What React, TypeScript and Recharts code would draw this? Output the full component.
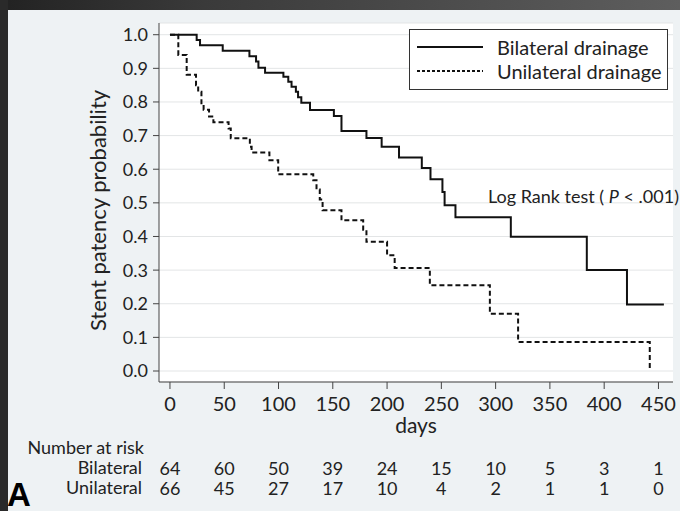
import React from 'react';
import { LineChart, Line, XAxis, YAxis, CartesianGrid, Legend, Label } from 'recharts';

const FONT = 'Lato, "Open Sans", sans-serif';
const INK = '#222';

const dayTicks = [0, 50, 100, 150, 200, 250, 300, 350, 400, 450];
const probTicks = [0, 0.1, 0.2, 0.3, 0.4, 0.5, 0.6, 0.7, 0.8, 0.9, 1];

const bilateralAtRisk = [64, 60, 50, 39, 24, 15, 10, 5, 3, 1];
const unilateralAtRisk = [66, 45, 27, 17, 10, 4, 2, 1, 1, 0];

// Kaplan-Meier steps
const bilateralDays = [0, 24.6, 27.7, 48.6, 73.2, 79.3, 81.5, 87.6, 104.5, 109, 112, 116, 118, 121, 129, 151, 158, 181, 195, 211, 232, 240, 251, 253, 263, 314, 384, 421, 455];
const bilateralSurv = [1, 0.984, 0.969, 0.952, 0.936, 0.92, 0.902, 0.887, 0.875, 0.86, 0.845, 0.83, 0.814, 0.798, 0.776, 0.758, 0.714, 0.693, 0.667, 0.635, 0.604, 0.57, 0.532, 0.493, 0.457, 0.399, 0.3, 0.198, 0.198];

const unilateralDays = [0, 7.7, 15.4, 24, 26, 29, 31, 36, 40, 54, 56, 73.6, 75.2, 91.6, 99.7, 132, 135, 138, 140.6, 158, 178, 181, 200, 207, 239.4, 294.7, 320.7, 442];
const unilateralSurv = [1, 0.94, 0.881, 0.85, 0.83, 0.792, 0.777, 0.757, 0.74, 0.721, 0.692, 0.667, 0.65, 0.627, 0.585, 0.567, 0.54, 0.51, 0.478, 0.448, 0.42, 0.384, 0.344, 0.306, 0.255, 0.17, 0.086, 0];

const seriesNames = ['Bilateral drainage', 'Unilateral drainage'];
const seriesDash = ['0', '5 3'];

const toPoints = (days: number[], surv: number[]) => days.map((d, i) => ({ day: d, p: surv[i] }));
const bilateral = toPoints(bilateralDays, bilateralSurv);
const unilateral = toPoints(unilateralDays, unilateralSurv);

const xDomain: [number, number] = [-10.1, 463.4];
const atRisk = (row: number[]) => (v: number) => String(row[dayTicks.indexOf(v)] ?? '');

// axis ids are numbered so they stack top-to-bottom in this order
const AX_DAYS = 0;
const AX_TITLE = 1;
const AX_BIL = 2;
const AX_UNI = 3;

function LegendBox() {
  return (
    <div
      style={{
        width: 257,
        height: 59,
        background: '#fff',
        border: '1px solid #333',
        fontFamily: FONT,
        fontSize: 20,
        color: INK,
        boxSizing: 'content-box',
      }}
    >
      {seriesNames.map((name, i) => (
        <div key={name} style={{ display: 'flex', alignItems: 'center', height: 24, marginTop: i === 0 ? 5 : 0 }}>
          <svg width={80} height={10} style={{ marginLeft: 7 }}>
            <line x1={0} x2={66} y1={5} y2={5} stroke="#111" strokeWidth={2} strokeDasharray={i === 0 ? undefined : '3 2'} />
          </svg>
          <span style={{ lineHeight: '24px' }}>{name}</span>
        </div>
      ))}
    </div>
  );
}

function YTitle(props: any) {
  const vb = props.viewBox || {};
  const x = vb.x + 18;
  const y = vb.y + vb.height / 2 + 8;
  return (
    <text x={x} y={y} transform={`rotate(-90 ${x} ${y})`} textAnchor="middle" dominantBaseline="central" fontSize={22} fontFamily={FONT} fill={INK}>
      Stent patency probability
    </text>
  );
}

export default function App() {
  return (
    <div style={{ position: 'relative', width: 680, height: 511, background: '#eef2f4', overflow: 'hidden' }}>
      <style>{'body{margin:0}'}</style>
      <div style={{ position: 'absolute', left: 0, top: 0, width: 680, height: 10, background: 'linear-gradient(90deg, #222 0%, #3a3a3a 30%, #5e5e5e 100%)' }} />
      <div style={{ position: 'absolute', left: 0, top: 0, width: 8, height: 511, background: '#2a2a2a' }} />
      <div style={{ position: 'absolute', left: 0, top: 0 }}>
        <LineChart width={680} height={511} margin={{ top: 23, right: 7, bottom: 13, left: 79 }}>
          <CartesianGrid xAxisId={AX_DAYS} vertical={false} stroke="#e3e5e6" fill="#fff" />
          <XAxis
            xAxisId={AX_DAYS}
            dataKey="day"
            type="number"
            domain={xDomain}
            ticks={dayTicks}
            allowDataOverflow
            height={56}
            tickSize={7}
            tickMargin={8}
            stroke="#444"
            tick={{ fill: INK, fontSize: 20, fontFamily: FONT }}
          >
            <Label value="days" position="insideBottom" offset={5} fontSize={21} fontFamily={FONT} fill={INK} />
          </XAxis>
          <XAxis xAxisId={AX_TITLE} dataKey="day" type="number" domain={xDomain} ticks={dayTicks} allowDataOverflow height={20} tick={false} axisLine={false} tickLine={false}>
            <Label value="Number at risk" position="left" offset={15} fontSize={18} fontFamily={FONT} fill={INK} />
          </XAxis>
          <XAxis
            xAxisId={AX_BIL}
            dataKey="day"
            type="number"
            domain={xDomain}
            ticks={dayTicks}
            allowDataOverflow
            height={20}
            axisLine={false}
            tickLine={false}
            tickSize={0}
            tickMargin={4}
            tickFormatter={atRisk(bilateralAtRisk)}
            tick={{ fill: INK, fontSize: 18, fontFamily: FONT }}
          >
            <Label value="Bilateral" position="left" offset={17} fontSize={18} fontFamily={FONT} fill={INK} />
          </XAxis>
          <XAxis
            xAxisId={AX_UNI}
            dataKey="day"
            type="number"
            domain={xDomain}
            ticks={dayTicks}
            allowDataOverflow
            height={20}
            axisLine={false}
            tickLine={false}
            tickSize={0}
            tickMargin={4}
            tickFormatter={atRisk(unilateralAtRisk)}
            tick={{ fill: INK, fontSize: 18, fontFamily: FONT }}
          >
            <Label value="Unilateral" position="left" offset={17} fontSize={18} fontFamily={FONT} fill={INK} />
          </XAxis>
          <YAxis
            type="number"
            domain={[-0.0327, 1.0348]}
            ticks={probTicks}
            allowDataOverflow
            width={80}
            tickSize={6}
            tickMargin={5}
            stroke="#444"
            tickFormatter={(v: number) => v.toFixed(1)}
            tick={{ fill: INK, fontSize: 18, fontFamily: FONT }}
          >
            <Label content={<YTitle />} />
          </YAxis>
          <Line
            xAxisId={AX_DAYS}
            data={bilateral}
            dataKey="p"
            name={seriesNames[0]}
            type="stepAfter"
            stroke="#111"
            strokeWidth={2}
            strokeDasharray={seriesDash[0]}
            dot={false}
            activeDot={false}
            isAnimationActive={false}
          />
          <Line
            xAxisId={AX_DAYS}
            data={unilateral}
            dataKey="p"
            name={seriesNames[1]}
            type="stepAfter"
            stroke="#111"
            strokeWidth={2}
            strokeDasharray={seriesDash[1]}
            dot={false}
            activeDot={false}
            isAnimationActive={false}
          />
          <Legend layout="horizontal" verticalAlign="middle" wrapperStyle={{ top: 29, left: 409, width: 259 }} content={<LegendBox />} />
        </LineChart>
      </div>
      <div style={{ position: 'absolute', left: 488, top: 185, fontFamily: FONT, fontSize: 18, color: INK, whiteSpace: 'nowrap', lineHeight: '22px' }}>
        Log Rank test ( <i>P</i> &lt; .001)
      </div>
      <div style={{ position: 'absolute', left: 7, top: 479, fontFamily: '"Liberation Sans", Arial, sans-serif', fontWeight: 700, fontSize: 33, color: '#000', lineHeight: '31px' }}>
        A
      </div>
    </div>
  );
}
